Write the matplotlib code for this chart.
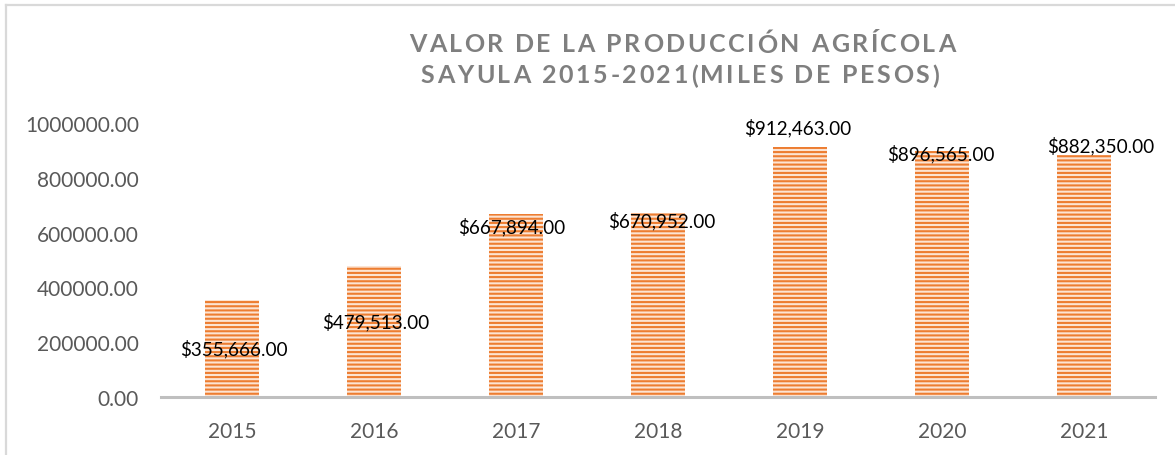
import matplotlib
matplotlib.use("Agg")
import matplotlib.pyplot as plt
from matplotlib.textpath import TextToPath
from matplotlib.font_manager import FontProperties
import matplotlib.transforms as mtransforms
from matplotlib.lines import Line2D

years = ["2015", "2016", "2017", "2018", "2019", "2020", "2021"]
values = [355666.00, 479513.00, 667894.00, 670952.00, 912463.00, 896565.00, 882350.00]
yticks = [0, 200000, 400000, 600000, 800000, 1000000]
title_lines = ["VALOR DE LA PRODUCCIÓN AGRÍCOLA", "SAYULA 2015-2021(MILES DE PESOS)"]

# label offsets (points) relative to bar top, as placed in the original chart
label_dy = [-35, -40, -9, -5, 14, -1, 7]
label_dx = [1, 1, -3, 3, -2, -1, 12]

W, H, DPI = 1175, 456, 100
plt.rcParams["hatch.linewidth"] = 1.5
fig = plt.figure(figsize=(W / DPI, H / DPI), dpi=DPI)
fig.patch.set_facecolor("white")

ax = fig.add_axes([161 / W, (H - 398) / H, (1155 - 161) / W, (398 - 124) / H])
x = list(range(len(years)))
bars = ax.bar(x, values, width=0.38, color="#FCE4D3", edgecolor="#ED7D31",
              hatch="----", linewidth=0)

ax.set_xlim(-0.5, 6.5)
ax.set_ylim(0, 1000000)
ax.set_yticks(yticks)
ax.set_yticklabels([f"{v:.2f}" for v in yticks])
ax.set_xticks(x)
ax.set_xticklabels(years)
ax.tick_params(axis="both", length=0, labelsize=15, labelcolor="#595959",
               labelfontfamily="Lato")
ax.tick_params(axis="y", pad=16)
ax.tick_params(axis="x", pad=17)
for s in ["top", "right", "left"]:
    ax.spines[s].set_visible(False)
ax.spines["bottom"].set_color("#BFBFBF")
ax.spines["bottom"].set_linewidth(2.2)

for i, v in enumerate(values):
    ax.annotate(f"${v:,.2f}", xy=(i, v), xytext=(label_dx[i], label_dy[i]),
                textcoords="offset points", ha="center", va="center",
                fontsize=13.6, color="black", family="Lato")

# title with wide letter spacing
prop = FontProperties(family="Lato", weight="bold", size=18)
t2p = TextToPath()
tracking = 1.9  # points between letters
centers = [(682, 45), (680, 76)]
for line, (cx, cy) in zip(title_lines, centers):
    widths = []
    for ch in line:
        w, h, d = t2p.get_text_width_height_descent(ch, prop, ismath=False)
        widths.append(w)
    total = sum(widths) + tracking * (len(line) - 1)
    pos = -total / 2
    for ch, w in zip(line, widths):
        fig.text(0, 0, ch, fontproperties=prop, color="#7F7F7F",
                 ha="left", va="center",
                 transform=mtransforms.Affine2D().translate(cx + pos * DPI / 72, H - cy))
        pos += w + tracking

# chart border (top and left visible)
fig.add_artist(Line2D([6 / W, 6 / W], [0, (H - 6) / H], color="#D9D9D9", linewidth=1.6,
                      transform=fig.transFigure))
fig.add_artist(Line2D([6 / W, 1], [(H - 6) / H, (H - 6) / H], color="#D9D9D9", linewidth=1.6,
                      transform=fig.transFigure))

fig.savefig("out.png", dpi=DPI, facecolor="white")
